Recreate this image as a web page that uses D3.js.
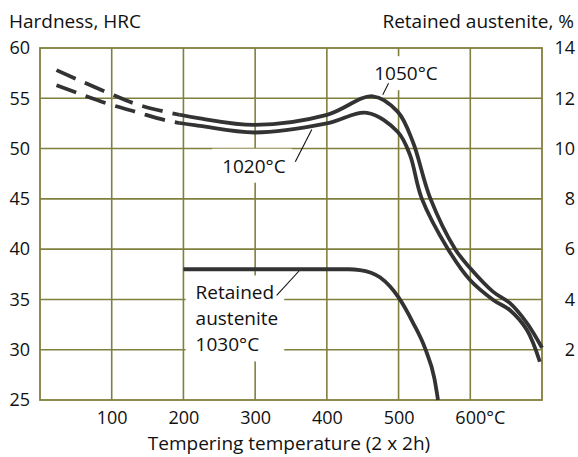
<!DOCTYPE html>
<html>
<head>
<meta charset="utf-8">
<script src="https://cdn.jsdelivr.net/npm/d3@7"></script>
<style>
  body { margin: 0; background: #fff; }
  svg text { font-family: "Open Sans", Lato, sans-serif; fill: #111; }
</style>
</head>
<body>
<div id="vis"></div>
<script>
//-- Data
var tempTicks = [100, 200, 300, 400, 500, 600];
var hrcTicks = [25, 30, 35, 40, 45, 50, 55, 60];
var austTicks = [2, 4, 6, 8, 10, 12, 14];

// 1050°C hardness curve: tempering temp (°C), HRC
var t1050 = [23, 93, 135, 179, 223, 300, 400, 464, 499, 520, 544, 579, 600, 632, 655, 679, 700];
var h1050 = [57.8, 55.6, 54.4, 53.6, 53.0, 52.35, 53.35, 55.2, 53.65, 50.65, 45.1, 40.0, 38.1, 35.75, 34.65, 32.65, 30.2];

// 1020°C hardness curve
var t1020 = [23, 93, 136, 179, 223, 300, 400, 456, 499, 516, 532, 569, 600, 632, 655, 679, 697];
var h1020 = [56.3, 54.5, 53.6, 52.75, 52.25, 51.6, 52.5, 53.55, 51.65, 49.35, 45.1, 40.0, 36.9, 34.95, 33.95, 31.95, 28.8];

// Retained austenite (1030°C), %
var tAust = [200, 300, 400, 430, 446, 474, 500, 520, 537, 550, 555];
var pAust = [5.2, 5.2, 5.2, 5.2, 5.17, 4.88, 4.08, 3.08, 2.05, 0.85, 0];

var dashedBelow = 195; // hardness curves are dashed below this temperature

//-- Setup
var width = 578;
var height = 457;
var gridColor = "#80803e";
var lineColor = "#333333";
var font = "'Open Sans', Lato, sans-serif";
var fs = 18;   // tick labels
var fsT = 19;  // titles and annotations

var svg = d3.select("#vis").append("svg")
  .attr("width", width)
  .attr("height", height);

var x = d3.scaleLinear().domain([0, 700]).range([40, 542]);
var yL = d3.scaleLinear().domain([25, 60]).range([400, 48]);
var yR = d3.scaleLinear().domain([0, 14]).range([400, 48]);

//-- Grid
var grid = svg.append("g");
grid.selectAll("line.v")
  .data(tempTicks)
  .enter().append("line")
  .attr("x1", function(d) { return x(d); })
  .attr("x2", function(d) { return x(d); })
  .attr("y1", yL(25)).attr("y2", yL(60))
  .attr("stroke", gridColor).attr("stroke-width", 1.6);
grid.selectAll("line.h")
  .data(hrcTicks.slice(1, -1))
  .enter().append("line")
  .attr("y1", function(d) { return yL(d); })
  .attr("y2", function(d) { return yL(d); })
  .attr("x1", x(0)).attr("x2", x(700))
  .attr("stroke", gridColor).attr("stroke-width", 1.6);
grid.append("rect")
  .attr("x", x(0)).attr("y", yL(60))
  .attr("width", x(700) - x(0)).attr("height", yL(25) - yL(60))
  .attr("fill", "none").attr("stroke", gridColor).attr("stroke-width", 1.8);

//-- Axes
var axL = svg.append("g")
  .attr("transform", "translate(" + x(0) + ",0)")
  .call(d3.axisLeft(yL).tickValues(hrcTicks).tickSize(0).tickPadding(10));
var axR = svg.append("g")
  .attr("transform", "translate(" + x(700) + ",0)")
  .call(d3.axisRight(yR).tickValues(austTicks).tickSize(0).tickPadding(33));
axR.selectAll("text").attr("text-anchor", "end");
var axB = svg.append("g")
  .attr("transform", "translate(0," + yL(25) + ")")
  .call(d3.axisBottom(x).tickValues(tempTicks).tickSize(0).tickPadding(11)
    .tickFormat(function(d) { return d === 600 ? d + "°C" : d; }));

[axL, axR, axB].forEach(function(a) {
  a.select(".domain").remove();
  a.selectAll("text").attr("font-size", fs).attr("font-family", font).attr("fill", "#111");
});

// keep "600" centred on its tick, with °C trailing
axB.selectAll("text").filter(function(d) { return d === 600; })
  .each(function() {
    var tmp = svg.append("text").attr("font-size", fs).attr("font-family", font).text("600");
    var w = tmp.node().getComputedTextLength();
    tmp.remove();
    d3.select(this).attr("text-anchor", "start").attr("x", -w / 2);
  });

svg.append("text")
  .attr("x", 9).attr("y", 28)
  .attr("font-size", fsT)
  .text("Hardness, HRC");
svg.append("text")
  .attr("x", 574).attr("y", 28)
  .attr("text-anchor", "end")
  .attr("font-size", fsT)
  .text("Retained austenite, %");
svg.append("text")
  .attr("x", (x(0) + x(700)) / 2 - 2).attr("y", 450)
  .attr("text-anchor", "middle")
  .attr("font-size", fsT)
  .text("Tempering temperature (2 x 2h)");

//-- Label boxes (knock out the grid) and labels
function label(lines, tx, ty, lh) {
  var g = svg.append("g");
  var t = g.append("text")
    .attr("font-size", fsT);
  lines.forEach(function(s, i) {
    t.append("tspan").attr("x", tx).attr("y", ty + i * (lh || 0)).text(s);
  });
  var b = t.node().getBBox();
  g.insert("rect", "text")
    .attr("x", b.x - 10).attr("y", b.y - 4)
    .attr("width", b.width + 16).attr("height", b.height + 8)
    .attr("fill", "#fff");
  return g;
}

function leader(x1, y1, x2, y2) {
  svg.append("line")
    .attr("x1", x1).attr("y1", y1).attr("x2", x2).attr("y2", y2)
    .attr("stroke", "#111").attr("stroke-width", 1.1);
}

label(["1050°C"], x(466), yL(56.8));
label(["1020°C"], x(254), yL(47.6));
label(["Retained", "austenite", "1030°C"], x(217), yL(35.0), 26);

leader(x(486), yL(56.5), x(478), yL(55.35));
leader(x(356), yL(48.7), x(379), yL(51.9));
leader(x(330), yL(35.4), x(365), yR(5.25));

//-- Curves
var defs = svg.append("defs");
defs.append("clipPath").attr("id", "clipDash")
  .append("rect").attr("x", 0).attr("y", 0)
  .attr("width", x(dashedBelow)).attr("height", height);
defs.append("clipPath").attr("id", "clipSolid")
  .append("rect").attr("x", x(dashedBelow)).attr("y", 0)
  .attr("width", width - x(dashedBelow)).attr("height", height);

var hLine = d3.line()
  .x(function(d) { return x(d[0]); })
  .y(function(d) { return yL(d[1]); })
  .curve(d3.curveCatmullRom.alpha(0.5));

var aLine = d3.line()
  .x(function(d) { return x(d[0]); })
  .y(function(d) { return yR(d[1]); })
  .curve(d3.curveMonotoneX);

[[t1050, h1050], [t1020, h1020]].forEach(function(s) {
  var pts = d3.zip(s[0], s[1]);
  svg.append("path")
    .attr("d", hLine(pts))
    .attr("clip-path", "url(#clipDash)")
    .attr("fill", "none").attr("stroke", lineColor)
    .attr("stroke-width", 3.8)
    .attr("stroke-dasharray", "21,10");
  svg.append("path")
    .attr("d", hLine(pts))
    .attr("clip-path", "url(#clipSolid)")
    .attr("fill", "none").attr("stroke", lineColor)
    .attr("stroke-width", 3.8);
});

svg.append("path")
  .attr("d", aLine(d3.zip(tAust, pAust)))
  .attr("fill", "none").attr("stroke", lineColor)
  .attr("stroke-width", 3.8);
</script>
</body>
</html>
